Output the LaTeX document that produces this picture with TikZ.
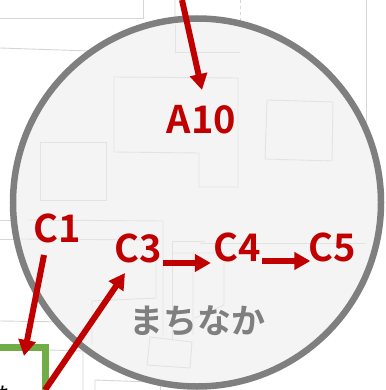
\documentclass[tikz,border=0pt]{standalone}
\usepackage{fontspec}
\usetikzlibrary{arrows.meta}
\newfontfamily\jpbold{Noto Sans CJK JP Bold}
\newfontfamily\jpreg{Noto Sans CJK JP}
\definecolor{ringgray}{HTML}{7F7F7F}
\definecolor{mapfill}{HTML}{F4F4F4}
\definecolor{mapline}{HTML}{E3E3E3}
\definecolor{mapdark}{HTML}{D6D6D6}
\definecolor{arrowred}{HTML}{C00000}
\definecolor{greenbox}{HTML}{70AD47}
\tikzset{
  mapout/.style={draw=mapdark,line width=0.9pt},
  mapin/.style={draw=mapline,line width=0.9pt},
  redarrow/.style={draw=arrowred,line width=6pt,-{Triangle[length=16pt,width=17pt,fill=arrowred]}},
  redlabel/.style={text=arrowred,font=\jpbold\fontsize{38}{38}\selectfont,inner sep=0pt,anchor=base},
  graylabel/.style={text=ringgray,font=\jpbold\fontsize{34}{34}\selectfont,inner sep=0pt,anchor=base},
}
\begin{document}
\begin{tikzpicture}[x=1pt,y=-1pt]
\useasboundingbox (0,0) rectangle (385,390);
\fill[white] (0,0) rectangle (385,390);
% map lines outside the circle
\draw[mapout] (0,18) -- (143,18) -- (143,0);
\draw[mapout] (0,48) -- (90,51) -- (175,52) -- (175,0);
\draw[mapout,dashed] (175,52) -- (240,52) -- (240,0);
\draw[mapout] (366,0) -- (366,245);
\draw[mapout] (0,220) -- (30,220);
\draw[mapout] (0,239) -- (30,239);
\draw[mapout] (0,321) -- (70,322);
\draw[mapout] (48,350) -- (83,351) -- (83,390);
\draw[mapout] (95,390) -- (95,380) -- (150,382);
\draw[mapout] (160,390) -- (160,384);
% circle
\node[circle,draw=ringgray,fill=mapfill,line width=6.5pt,minimum size=368pt,inner sep=0pt] (ring) at (197,202.5) {};
% map lines inside the circle
\draw[mapin] (114,77) -- (238,78) -- (238,187) -- (199,187) -- (199,153) -- (114,152) -- cycle;
\draw[mapin] (40,142) -- (106,142) -- (106,200) -- (40,200) -- cycle;
\draw[mapin] (267,100) -- (333,102) -- (332,161) -- (265,159) -- cycle;
\draw[mapin] (175,25) -- (175,52) -- (240,52);
\draw[mapin] (28,220) -- (163,221) -- (163,335);
\draw[mapin] (20,239) -- (156,240) -- (156,298) -- (92,301) -- (92,345);
\draw[mapin] (172,340) -- (172,241) -- (205,241);
\draw[mapin] (193,335) -- (193,253) (172,253) -- (224,253) -- (224,305) -- (195,318);
\draw[mapin] (200,243) -- (366,243);
\draw[mapin] (150,337) -- (192,342) -- (190,368) -- (147,365) -- cycle;
% green frame
\draw[greenbox,line width=7pt] (0,347.5) -- (45,347.5) -- (45,390);
% partly visible text
\clip (0,0) rectangle (385,390);
\node[inner sep=0pt,anchor=base west,font=\jpreg\fontsize{22}{22}\selectfont,text=black] (cut) at (-6,403) {た};
% arrows
\coordinate (a10s) at (182,0);
\coordinate (a10e) at (202,90);
\coordinate (c1s) at (44,255);
\coordinate (c1e) at (24,356);
\coordinate (c3s) at (45,390);
\coordinate (c3e) at (125,273);
\draw[redarrow] (a10s) -- (a10e);
\draw[redarrow] (c1s) -- (c1e);
\draw[redarrow] (c3s) -- (c3e);
% labels
\node[redlabel] (A10) at (201.5,134) {A10};
\node[redlabel] (C1) at (57,242) {C1};
\node[redlabel] (C3) at (138,262) {C3};
\node[redlabel] (C4) at (237.5,261) {C4};
\node[redlabel] (C5) at (332,261) {C5};
\node[graylabel] (machi) at (197.5,333) {まちなか};
\draw[redarrow] ([xshift=1pt,yshift=-1pt]C3.base east) -- ++(48,0);
\draw[redarrow] ([xshift=1pt]C4.base east) -- ++(48,0);
\end{tikzpicture}
\end{document}
